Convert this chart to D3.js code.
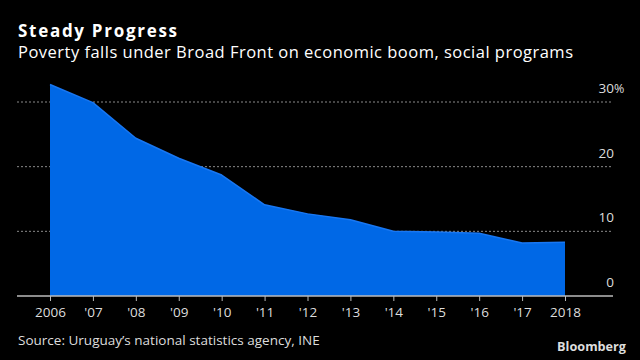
<!DOCTYPE html>
<html><head><meta charset="utf-8">
<script src="https://cdn.jsdelivr.net/npm/d3@7"></script>
<style>html,body{margin:0;padding:0;background:#000;}svg{display:block;}</style>
</head><body>
<svg id="c" width="640" height="360"></svg>
<script>
const years = [2006,2007,2008,2009,2010,2011,2012,2013,2014,2015,2016,2017,2018];
const yearLabels = ["2006","'07","'08","'09","'10","'11","'12","'13","'14","'15","'16","'17","2018"];
const poverty = [32.7,29.9,24.4,21.3,18.7,14.1,12.7,11.8,10.0,9.9,9.7,8.2,8.3];
const yTicks = [0,10,20,30];
const title = "Steady Progress";
const subtitle = "Poverty falls under Broad Front on economic boom, social programs";
const source = "Source: Uruguay\u2019s national statistics agency, INE";

const svg = d3.select("#c");
const W = 640, H = 360;
svg.append("rect").attr("width",W).attr("height",H).attr("fill","#000");
const font = "'Open Sans', sans-serif";

function fitSpacing(sel, w){ const n = sel.text().length; const l = sel.node().getComputedTextLength(); sel.attr("letter-spacing", (w-l)/(n-1)); }
function fit(sel, w){ const l = sel.node().getComputedTextLength(); const fs = parseFloat(sel.attr("font-size")); sel.attr("font-size", fs*w/l); }

const t = svg.append("text").attr("x",18).attr("y",36.5).attr("fill","#fff").attr("font-family",font).attr("font-weight",700).attr("font-size",17).text(title);
fitSpacing(t,159);
const st = svg.append("text").attr("x",18).attr("y",58).attr("fill","#fff").attr("font-family",font).attr("font-size",16.5).text(subtitle);
fitSpacing(st,555);

const x = d3.scaleLinear().domain([2006,2018]).range([50,565]);
const y = d3.scaleLinear().domain([0,30]).range([296,102]);

// gridlines
svg.append("g").selectAll("line").data(yTicks.filter(d=>d>0)).join("line")
  .attr("x1",17).attr("x2",613).attr("y1",d=>y(d)).attr("y2",d=>y(d))
  .attr("stroke","#8a8a8a").attr("stroke-width",1).attr("stroke-dasharray","2,2");

// area
const area = d3.area().x((d,i)=>x(years[i])).y0(y(0)).y1(d=>y(d));
const line = d3.line().x((d,i)=>x(years[i])).y(d=>y(d));
svg.append("path").datum(poverty).attr("d",area).attr("fill","#0068e6");
svg.append("path").datum(poverty).attr("d",line).attr("fill","none").attr("stroke","#1877f2").attr("stroke-width",1.5).attr("stroke-linejoin","round");

// y labels
svg.append("g").selectAll("text").data(yTicks).join("text")
  .attr("x",614).attr("y",d=>y(d)-9).attr("text-anchor","end")
  .attr("fill","#ddd").attr("font-family",font).attr("font-size",13.5)
  .text(d=>d);
svg.append("text").attr("x",614).attr("y",y(30)-9).attr("fill","#ddd").attr("font-family",font).attr("font-size",12.5).text("%");

// x axis
const xAxis = d3.axisBottom(x).tickValues(years).tickSize(5).tickSizeOuter(0).tickFormat((d,i)=>yearLabels[i]).tickPadding(6);
const gx = svg.append("g").attr("transform",`translate(0,${y(0)})`).call(xAxis);
gx.select(".domain").remove();
gx.selectAll(".tick line").attr("stroke","#bbb");
gx.selectAll(".tick text").attr("fill","#ddd").attr("font-family",font).attr("font-size",13.5);
svg.append("line").attr("x1",17).attr("x2",613).attr("y1",y(0)).attr("y2",y(0)).attr("stroke","#bbb").attr("stroke-width",1.5);

const s = svg.append("text").attr("x",18).attr("y",345).attr("fill","#ddd").attr("font-family",font).attr("font-size",12.5).text(source);
fit(s, 302);
const b = svg.append("text").attr("x",626).attr("y",351).attr("text-anchor","end").attr("fill","#ddd").attr("font-family",font).attr("font-weight",700).attr("font-size",13).text("Bloomberg");
fit(b,69);
</script>
</body></html>
